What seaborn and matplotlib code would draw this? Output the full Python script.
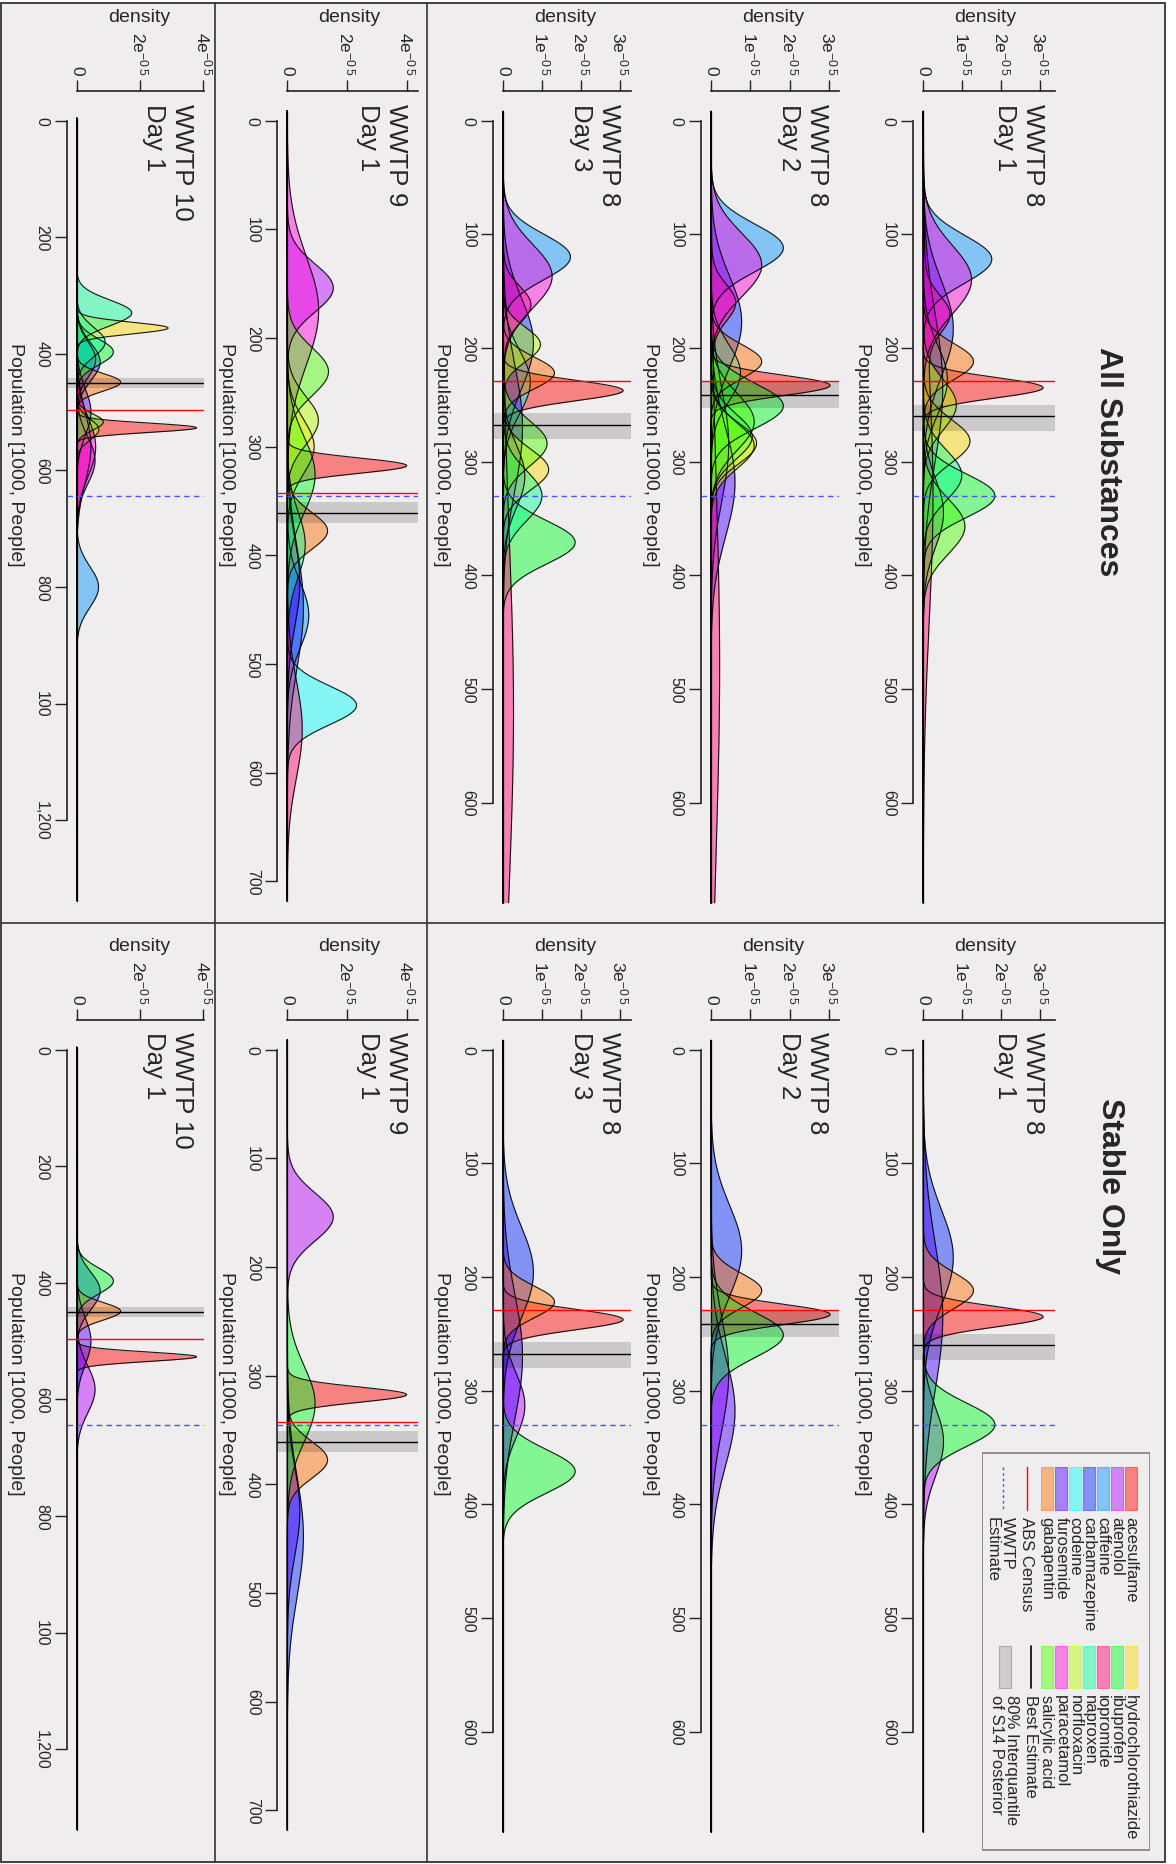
import numpy as np
import pandas as pd
import matplotlib
matplotlib.use("Agg")
import matplotlib.pyplot as plt
from matplotlib.patches import Rectangle
import seaborn as sns

sns.set_theme(style="white")
plt.rcParams["font.family"] = ["Liberation Sans", "DejaVu Sans"]
plt.rcParams["mathtext.fontset"] = "custom"
plt.rcParams["mathtext.rm"] = "Liberation Sans"
plt.rcParams["mathtext.default"] = "regular"

W, H = 1176, 1865

# ---------------- data ----------------
substances = ["acesulfame", "atenolol", "caffeine", "carbamazepine", "codeine",
              "furosemide", "gabapentin", "hydrochlorothiazide", "ibuprofen",
              "iopromide", "naproxen", "norfloxacin", "paracetamol", "salicylic acid"]
substance_colors = ["#FF0000", "#B600FF", "#0092FF", "#0024FF", "#00FFFF",
                    "#4900FF", "#FF6D00", "#FFDB00", "#00FF24",
                    "#FF006D", "#00FF92", "#B6FF00", "#FF00DB", "#49FF00"]
stable_substances = ["acesulfame", "atenolol", "carbamazepine", "furosemide",
                     "gabapentin", "ibuprofen"]

groups = ["All Substances", "Stable Only"]
panel_titles = ["WWTP 8\nDay 1", "WWTP 8\nDay 2", "WWTP 8\nDay 3", "WWTP 9\nDay 1", "WWTP 10\nDay 1"]

# reference lines (population, 1000 people)
abs_census = [229.5, 229.5, 229.5, 342.5, 496]
wwtp_estimate = [330, 330, 330, 345.5, 644]
best_estimate = [260, 241, 267.5, 361, 450]
iqr_low = [250, 230, 257, 351, 441]
iqr_high = [273.5, 253, 280, 370, 459.5]

# posterior density summaries per substance: (centre, spread, peak density in 1e-05)
W8D1 = {
    "acesulfame": [(235, 9, 3.08)], "atenolol": [(345, 30, 0.52)],
    "caffeine": [(122, 21, 1.76)], "carbamazepine": [(183, 42, 0.77)],
    "codeine": [(228, 30, 0.62)], "furosemide": [(235, 65, 0.5)],
    "gabapentin": [(212, 16, 1.29)], "hydrochlorothiazide": [(282, 19, 1.2)],
    "ibuprofen": [(330, 19, 1.84)], "iopromide": [(170, 16, 0.6), (330, 110, 0.25)],
    "naproxen": [(312, 22, 0.99)], "norfloxacin": [(250, 22, 0.85)],
    "paracetamol": [(140, 30, 1.24)], "salicylic acid": [(357, 24, 1.07)],
}
W8D2 = {
    "acesulfame": [(233, 9, 3.03)], "atenolol": [(285, 50, 0.45)],
    "caffeine": [(112, 21, 1.84)], "carbamazepine": [(177, 40, 0.78)],
    "codeine": [(222, 25, 0.75)], "furosemide": [(318, 48, 0.61)],
    "gabapentin": [(212, 15, 1.29)], "hydrochlorothiazide": [(284, 18, 1.16)],
    "ibuprofen": [(251, 20, 1.84)], "iopromide": [(160, 16, 0.6), (480, 160, 0.22)],
    "naproxen": [(278, 20, 1.05)], "norfloxacin": [(286, 20, 1.1)],
    "paracetamol": [(127, 28, 1.29)], "salicylic acid": [(265, 25, 1.1)],
}
W8D3 = {
    "acesulfame": [(237.5, 9, 3.08)], "atenolol": [(313, 28, 0.56)],
    "caffeine": [(120, 20, 1.73)], "carbamazepine": [(196, 40, 0.78)],
    "codeine": [(230, 28, 0.7)], "furosemide": [(270, 55, 0.5)],
    "gabapentin": [(222, 14, 1.32)], "hydrochlorothiazide": [(307, 18, 1.17)],
    "ibuprofen": [(371, 19, 1.85)], "iopromide": [(162, 16, 0.7), (520, 150, 0.27)],
    "naproxen": [(330, 22, 1.0)], "norfloxacin": [(197, 15, 0.96)],
    "paracetamol": [(137, 28, 1.26)], "salicylic acid": [(284, 20, 1.13)],
}
W9D1 = {
    "acesulfame": [(317.5, 7, 4.0)], "atenolol": [(154, 22, 1.54)],
    "caffeine": [(455, 30, 0.72)], "carbamazepine": [(448, 55, 0.54)],
    "codeine": [(538, 18, 2.32)], "furosemide": [(425, 40, 0.42)],
    "gabapentin": [(377.5, 17, 1.35)], "hydrochlorothiazide": [(300, 25, 0.9)],
    "ibuprofen": [(326, 35, 0.93)], "iopromide": [(560, 45, 0.5)],
    "naproxen": [(390, 30, 0.6)], "norfloxacin": [(276, 22, 1.04)],
    "paracetamol": [(175, 50, 1.05)], "salicylic acid": [(231, 22, 1.38)],
}
W10D1 = {
    "acesulfame": [(527, 8, 3.79)], "atenolol": [(583, 40, 0.58)],
    "caffeine": [(410, 30, 0.6), (800, 35, 0.69)], "carbamazepine": [(414, 32, 0.74)],
    "codeine": [(380, 25, 0.9)], "furosemide": [(500, 40, 0.45)],
    "gabapentin": [(449, 15, 1.39)], "hydrochlorothiazide": [(356, 10, 2.89)],
    "ibuprofen": [(397, 22, 1.16)], "iopromide": [(560, 60, 0.45)],
    "naproxen": [(330, 22, 1.74)], "norfloxacin": [(530, 18, 0.7)],
    "paracetamol": [(560, 50, 0.6)], "salicylic acid": [(517, 14, 0.84)],
}
panel_data = [W8D1, W8D2, W8D3, W9D1, W10D1]
data_range = [(-8, 688), (-8, 688), (-8, 688), (-9, 718), (-4, 1338)]

pop_ticks = [list(range(0, 601, 100))] * 3 + [list(range(0, 701, 100)), list(range(0, 1201, 200))]
pop_tick_labels = [[str(v) for v in t] for t in pop_ticks[:4]] + \
    [["0", "200", "400", "600", "800", "100", "1,200"]]
dens_ticks = [[0, 1, 2, 3]] * 3 + [[0, 2, 4]] * 2

# ---------------- layout (pixels in the rotated page) ----------------
baseline_x = [923.3, 711.0, 503.0, 287.3, 76.7]
panel_right = [1055, 839, 631, 418, 204]
px_per_dens = [38.9, 39.3, 39.0, 29.85, 31.65]   # px per 1e-05
px_per_pop = [1.137, 1.137, 1.137, 1.087, 0.583]
col_offset = [0, 929]
pop0_y = 121.5
dens_axis_y = 91.5
panel_bottom_y = 912

fig = plt.figure(figsize=(W / 100, H / 100), dpi=100)
fig.patch.set_facecolor("white")

bg = fig.add_axes([0, 0, 1, 1], zorder=-10)
bg.set_xlim(0, W)
bg.set_ylim(H, 0)
bg.axis("off")
bg.add_patch(Rectangle((1, 4), 1164, 1859, facecolor="#EFEDEE", edgecolor="#333333", lw=1.3))
bg.plot([1, 1165], [924, 924], color="#333333", lw=1.2)
bg.plot([215, 215], [4, 1863], color="#333333", lw=1.2)
bg.plot([427, 427], [4, 1863], color="#333333", lw=1.2)


def fx(x):
    return x / W


def fy(y):
    return 1 - y / H


for g, group in enumerate(groups):
    yo = col_offset[g]
    for r in range(5):
        x0 = baseline_x[r]
        xa = x0 - 10
        xb = panel_right[r]
        ytop = dens_axis_y + yo
        ybot = panel_bottom_y + yo
        p0 = pop0_y + yo
        k = px_per_dens[r]
        s = px_per_pop[r]
        ax = fig.add_axes([fx(xa), fy(ybot), (xb - xa) / W, (ybot - ytop) / H])
        ax.set_facecolor("none")

        lo, hi = data_range[r]
        pop = np.linspace(lo, hi, 1400)
        curves = panel_data[r]
        for name, col in zip(substances, substance_colors):
            if g == 1 and name not in stable_substances:
                continue
            dens = np.zeros_like(pop)
            for (m, sd, pk) in curves[name]:
                dens += pk * 1e-5 * np.exp(-0.5 * ((pop - m) / sd) ** 2)
            ax.fill_betweenx(pop, 0, dens, facecolor=col, alpha=0.45, linewidth=0)
            df = pd.DataFrame({"density": dens, "pop": pop})
            sns.lineplot(data=df, x="density", y="pop", orient="y", sort=False,
                         estimator=None, color="black", lw=0.8, alpha=0.9, ax=ax)
        ax.plot([0, 0], [lo, hi], color="black", lw=0.9)

        ax.axhspan(iqr_low[r], iqr_high[r], color="black", alpha=0.15, lw=0, zorder=5)
        ax.axhline(abs_census[r], color="#FF0000", lw=1.0, zorder=6)
        ax.axhline(best_estimate[r], color="black", lw=1.0, zorder=6)
        ax.axhline(wwtp_estimate[r], color="#5050FF", lw=1.0, ls=(0, (4, 3)), zorder=6)

        ax.set_xlim((xa - x0) / k * 1e-5, (xb - x0) / k * 1e-5)
        ax.set_ylim((ybot - p0) / s, (ytop - p0) / s)
        ax.set_xlabel("")
        ax.set_ylabel("")

        for side in ["right", "bottom"]:
            ax.spines[side].set_visible(False)
        for side in ["left", "top"]:
            ax.spines[side].set_color("#222222")
            ax.spines[side].set_linewidth(1.2)
        ax.spines["left"].set_bounds(0, pop_ticks[r][-1])
        ax.spines["top"].set_bounds(0, (xb - x0) / k * 1e-5)

        ax.xaxis.set_ticks_position("top")
        ax.set_xticks([t * 1e-5 for t in dens_ticks[r]])
        ax.set_xticklabels(["0" if t == 0 else f"{t}e$^{{-0\\,5}}$" for t in dens_ticks[r]])
        ax.tick_params(axis="x", which="both", top=True, bottom=False, labeltop=True,
                       labelbottom=False, direction="out", length=7.7, width=1.0,
                       pad=4, labelsize=12.5, labelrotation=-90, color="#222222")
        ax.set_yticks(pop_ticks[r])
        ax.set_yticklabels(pop_tick_labels[r])
        ax.tick_params(axis="y", left=True, direction="out", length=8.6, width=1.0,
                       pad=4, labelsize=11.5, labelrotation=-90, color="#222222")
        for lab in ax.get_yticklabels():
            lab.set_va("center")
        ax.grid(False)

        fig.text(fx(x0 + 62), fy(18 + yo), "density", ha="center", va="center", fontsize=14)
        fig.text(fx(xb - 10), fy(p0 - 18), panel_titles[r], rotation=-90, ha="right",
                 va="top", fontsize=18.5, ma="left")
        fig.text(fx(x0 - 61), fy(455 + yo), "Population [1000, People]", rotation=-90,
                 ha="center", va="center", fontsize=14)

fig.text(fx(1108), fy(462), groups[0], rotation=-90, ha="center", va="center",
         fontsize=23, fontweight="bold")
fig.text(fx(1110), fy(1186), groups[1], rotation=-90, ha="center", va="center",
         fontsize=23, fontweight="bold")

# ---------------- legend ----------------
lx0, lx1, ly0, ly1 = 981.7, 1150, 1453.3, 1851.7
lax = fig.add_axes([fx(lx0), fy(ly1), (lx1 - lx0) / W, (ly1 - ly0) / H])
lax.set_xlim(lx0, lx1)
lax.set_ylim(ly1, ly0)
lax.axis("off")
lax.add_patch(Rectangle((lx0 + 0.5, ly0 + 0.5), lx1 - lx0 - 1, ly1 - ly0 - 1,
                        fill=False, edgecolor="#7F7F7F", lw=1.2))
row_x = [1130.7, 1116.7, 1102.7, 1089.0, 1075.0, 1061.0, 1046.7]
col_y = [(1468.3, 1516.7), (1646.7, 1695.0)]
for i, (name, col) in enumerate(zip(substances, substance_colors)):
    c, rr = divmod(i, 7)
    ys, yt = col_y[c]
    xc = row_x[rr]
    lax.add_patch(Rectangle((xc - 6, ys), 12, 42.7, facecolor=col, alpha=0.45,
                            edgecolor=col, lw=0.8))
    lax.text(xc, yt, name, rotation=-90, ha="center", va="top", fontsize=12)
# ABS census / WWTP estimate
lax.plot([1026.7, 1026.7], [1468.3, 1511], color="#FF0000", lw=1.0)
lax.text(1026.7, 1516.7, "ABS Census", rotation=-90, ha="center", va="top", fontsize=12)
lax.plot([1002.7, 1002.7], [1468.3, 1511], color="#5050FF", lw=1.0, ls=(0, (2, 2)))
lax.text(999.5, 1516.7, "WWTP\nEstimate", rotation=-90, ha="center", va="top",
         fontsize=12, ma="left", linespacing=1.0)
# Best estimate / interquantile
lax.plot([1030.7, 1030.7], [1646.7, 1689.3], color="black", lw=1.2)
lax.text(1030.7, 1695.0, "Best Estimate", rotation=-90, ha="center", va="top", fontsize=12)
lax.add_patch(Rectangle((999.3, 1646.7), 11.4, 42.6, facecolor="#CCCCCC",
                        edgecolor="#AAAAAA", lw=0.8))
lax.text(1004.5, 1695.0, "80% Interquantile\nof S14 Posterior", rotation=-90,
         ha="center", va="top", fontsize=12, ma="left", linespacing=1.0)

fig.savefig("out.png", dpi=100, facecolor="white")
